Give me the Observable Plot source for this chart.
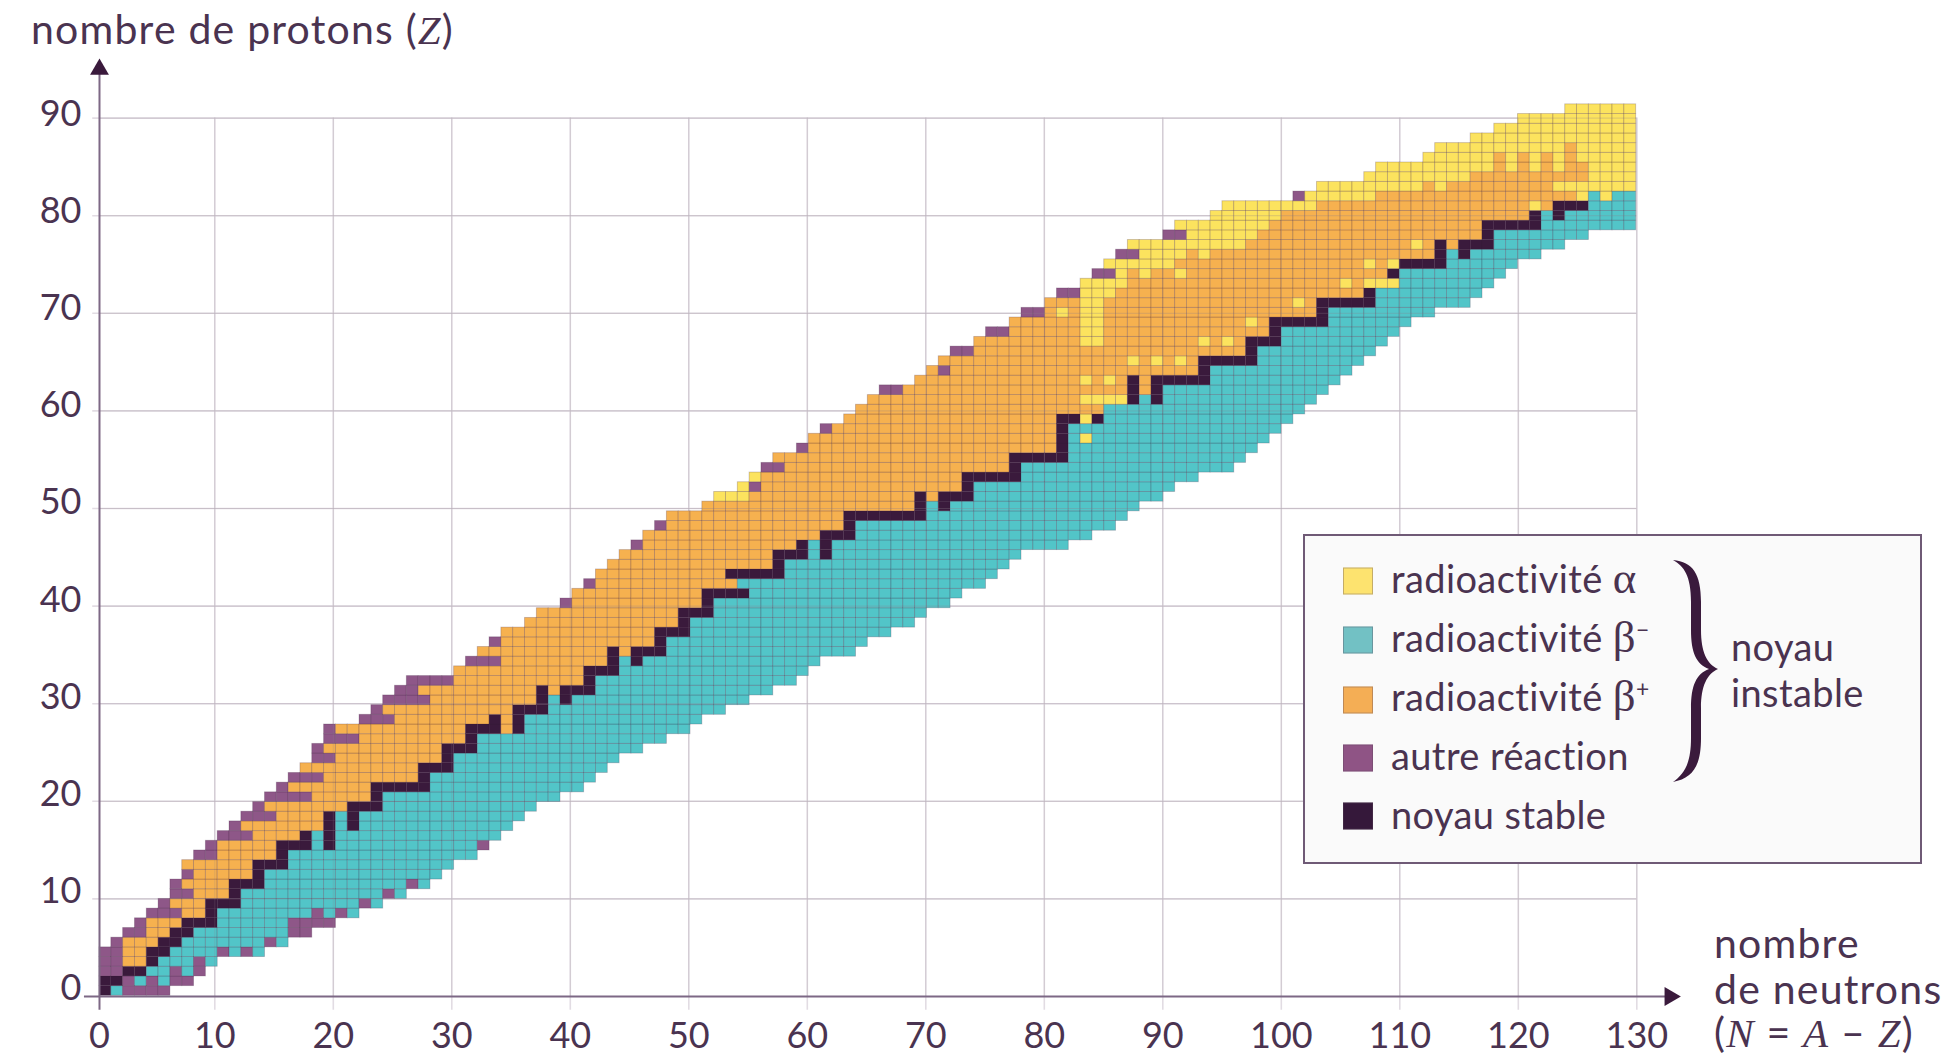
<!DOCTYPE html>
<html lang="fr">
<head>
<meta charset="utf-8">
<script src="https://cdn.jsdelivr.net/npm/d3@7"></script>
<script src="https://cdn.jsdelivr.net/npm/@observablehq/plot@0.6"></script>
<style>
  html, body { margin: 0; padding: 0; background: #fff; overflow: hidden; }
  #page { position: relative; width: 1952px; height: 1056px; font-family: Lato, sans-serif; color: #4a3350; }
  #page svg { display: block; }
  .lab { position: absolute; white-space: nowrap; transform: translateY(-50%); font-size: 41px; letter-spacing: 1.2px; }
  .lab.legend { font-size: 38px; letter-spacing: .4px; }
  .lab i { font-family: "Liberation Serif", serif; }
  .greek { font-family: "Liberation Serif", serif; font-size: 118%; }
  .lab sup { font-size: 60%; line-height: 0; vertical-align: .6em; }
  #box { position: absolute; left: 1303px; top: 534px; width: 619px; height: 330px; box-sizing: border-box; background: #fafafa; border: 2px solid #6f5a76; }
  .sw { position: absolute; width: 30px; height: 27px; box-sizing: border-box; border: 1px solid rgba(90,70,90,.35); transform: translateY(-50%); }
</style>
</head>
<body>
<div id="page"></div>
<script>
// neutron columns: 0 to 129
const zBottom = [0,0,0,0,0,0,1,1,2,3,4,4,4,4,5,5,6,6,7,7,8,8,9,9,10,10,11,11,12,13,14,14,15,16,17,18,19,20,20,21,21,22,23,24,25,25,26,26,27,27,28,29,29,30,30,31,31,32,32,33,34,35,35,35,36,37,37,38,38,39,40,40,41,42,42,43,44,45,46,46,46,46,47,47,48,48,49,50,51,51,52,53,53,54,54,54,55,56,57,58,59,60,61,62,63,64,65,66,67,68,69,70,70,71,71,71,72,73,74,75,76,76,77,77,78,78,79,79,79,79];
const zTop = [4,5,6,7,8,9,11,13,14,15,16,17,18,19,20,21,22,23,25,27,27,27,28,29,30,31,32,32,32,32,33,34,35,36,37,37,38,39,39,40,41,42,43,44,45,46,47,48,49,49,49,50,51,51,52,53,54,55,55,56,57,58,58,59,60,61,62,62,62,63,64,65,66,66,67,68,68,69,70,70,71,72,72,73,74,75,76,77,77,77,78,79,79,79,80,81,81,81,81,81,81,82,82,83,83,83,83,84,85,85,85,85,86,87,87,87,88,88,89,89,90,90,90,90,91,91,91,91,91,91];
const betaMinusTop = [-1,0,1,1,2,3,4,5,6,6,8,8,10,10,12,12,14,14,16,14,18,16,18,18,20,20,20,20,22,22,24,24,26,26,26,26,28,28,30,29,30,30,32,32,34,33,34,34,36,36,38,38,40,40,42,42,42,42,44,44,46,44,46,46,48,48,48,48,48,48,50,49,50,50,52,52,52,52,54,54,54,54,58,58,58,60,60,60,61,60,62,62,62,62,64,64,64,64,66,66,68,68,68,68,70,70,70,70,72,72,74,74,74,74,76,75,76,76,78,78,78,78,80,79,80,80,82,81,82,82];
// [Z, first N, last N]
const stable = [[0,0,0],[1,0,1],[2,2,3],[3,4,4],[4,4,5],[5,5,6],[6,6,7],[7,7,9],[8,9,9],[9,9,11],[10,11,11],[11,11,13],[12,13,13],[13,13,15],[14,15,15],[15,15,17],[15,19,19],[16,17,17],[16,19,19],[17,19,19],[17,21,21],[18,19,19],[18,21,21],[19,21,23],[20,23,23],[21,23,27],[22,27,27],[23,27,29],[24,29,29],[25,29,31],[26,31,31],[27,31,33],[27,35,35],[28,33,33],[28,35,35],[29,35,37],[30,37,37],[30,39,39],[31,37,37],[31,39,41],[32,41,41],[33,41,43],[34,43,43],[34,45,45],[35,43,43],[35,45,47],[36,47,47],[37,47,49],[38,49,49],[39,49,51],[40,51,51],[41,51,54],[43,53,57],[44,57,57],[45,57,59],[45,61,61],[46,59,59],[46,61,61],[47,61,63],[48,63,63],[49,63,69],[50,69,69],[50,71,71],[51,69,69],[51,71,73],[52,73,73],[53,73,77],[54,77,77],[55,77,81],[56,81,81],[57,81,81],[58,81,81],[59,81,82],[59,84,84],[61,87,87],[61,89,89],[62,87,87],[62,89,89],[63,87,87],[63,89,93],[64,93,93],[65,93,97],[66,97,97],[67,97,99],[68,99,99],[69,99,103],[70,103,103],[71,103,107],[72,107,107],[74,109,109],[75,110,113],[76,113,113],[76,115,115],[77,113,113],[77,115,117],[78,117,117],[79,117,121],[80,121,121],[80,123,123],[81,123,125]];
const other = [[0,2,5],[1,2,2],[1,4,4],[1,6,7],[2,0,1],[2,6,6],[2,8,8],[3,0,1],[3,8,8],[4,0,1],[4,10,10],[4,12,12],[5,1,1],[5,14,14],[6,2,3],[6,16,17],[7,3,3],[7,16,19],[8,4,6],[8,18,18],[8,20,20],[9,5,5],[9,22,22],[10,6,7],[10,24,24],[11,6,6],[11,26,26],[12,7,7],[14,8,9],[15,9,9],[15,32,32],[16,10,12],[17,11,11],[18,12,14],[19,13,13],[20,14,17],[21,15,15],[22,16,18],[24,18,19],[25,18,18],[26,19,21],[27,19,19],[28,22,24],[29,23,23],[30,24,27],[31,25,26],[32,26,29],[34,31,33],[36,33,33],[40,39,39],[42,41,41],[46,45,45],[48,47,47],[52,55,55],[54,56,57],[56,59,59],[58,61,61],[62,66,67],[64,71,71],[66,72,73],[68,75,76],[70,78,79],[72,81,82],[74,84,85],[76,86,87],[78,90,91],[82,101,101]];
const alpha = [[51,52,54],[52,54,54],[53,55,55],[57,83,83],[59,83,83],[61,83,86],[63,83,83],[63,85,85],[65,87,87],[65,89,89],[65,91,91],[67,83,84],[67,93,93],[67,95,95],[68,83,84],[69,83,84],[69,97,97],[70,81,81],[70,83,84],[71,83,84],[71,101,101],[72,83,85],[73,83,86],[73,105,105],[73,107,109],[74,86,86],[74,88,88],[74,91,91],[75,85,90],[75,107,107],[75,109,109],[76,88,91],[76,93,93],[77,87,96],[77,111,111],[78,92,97],[79,91,98],[80,94,99],[81,95,102],[81,121,121],[82,102,107],[82,125,125],[82,127,127],[83,103,111],[83,113,113],[83,123,129],[84,107,115],[84,126,129],[85,108,117],[85,119,119],[85,121,121],[85,123,123],[85,126,129],[86,112,117],[86,119,119],[86,121,121],[86,123,123],[86,125,129],[87,113,123],[87,125,129],[88,116,129],[89,118,129],[90,120,129],[91,124,129]];

const categories = ["alpha", "betaMinus", "betaPlus", "other", "stable"];
const colours = ["#fce35e", "#52c5c8", "#f6b14f", "#8e5788", "#3a1a3c"];
const legendColours = ["#fde36f", "#72c1c4", "#f4ae55", "#8f5485", "#35183a"];
const xTicks = [0,10,20,30,40,50,60,70,80,90,100,110,120,130];
const yTicks = [0,10,20,30,40,50,60,70,80,90];

// the printed cell lattice does not quite share the printed axis graduation
const cellOriginX = 0.27, cellStepX = 0.9975, cellOriginY = 0.07, cellStepY = 0.9928;

const grid = new Map();
zBottom.forEach((low, n) => {
  for (let z = low; z <= zTop[n]; z++) grid.set(n + "," + z, z <= betaMinusTop[n] ? "betaMinus" : "betaPlus");
});
const paint = (list, cat) => list.forEach(([z, a, b]) => { for (let n = a; n <= b; n++) grid.set(n + "," + z, cat); });
paint(alpha, "alpha"); paint(other, "other"); paint(stable, "stable");
const cells = [...grid].map(([key, cat]) => { const [n, z] = key.split(",").map(Number); return {n, z, cat}; });

const gridColour = "#e2dce3", axisColour = "#7d6885", ink = "#4a3350", arrowInk = "#3a1a3c";
const tickFont = {fontFamily: "Lato, sans-serif", fontSize: 36, fill: ink};

const chart = Plot.plot({
  width: 1952, height: 1056, margin: 0,
  x: {domain: [-8.084, 156.64], range: [0, 1952], axis: null},
  y: {domain: [-6.148, 102.05], range: [1056, 0], axis: null},
  color: {domain: categories, range: colours},
  marks: [
    Plot.ruleX(xTicks.slice(1), {y1: -1.4, y2: 90, stroke: gridColour, strokeWidth: 1.6}),
    Plot.ruleY(yTicks.slice(1), {x1: -0.3, x2: 130, stroke: gridColour, strokeWidth: 1.6}),
    Plot.rect(cells, {
      x1: d => cellOriginX + d.n * cellStepX,
      x2: d => cellOriginX + (d.n + 1) * cellStepX,
      y1: d => cellOriginY + d.z * cellStepY,
      y2: d => cellOriginY + (d.z + 1) * cellStepY,
      fill: "cat", stroke: "#3a1a3c", strokeOpacity: 0.25, strokeWidth: 0.9
    }),
    Plot.ruleX(xTicks.slice(1), {y1: 0, y2: 90, stroke: "#8a7f8a", strokeOpacity: 0.22, strokeWidth: 1}),
    Plot.ruleY(yTicks.slice(1), {x1: 0.27, x2: 130, stroke: "#8a7f8a", strokeOpacity: 0.3, strokeWidth: 1}),
    Plot.ruleX([cellOriginX], {y1: -1.4, y2: 95, stroke: axisColour, strokeWidth: 2}),
    Plot.ruleY([0], {x1: -1, x2: 132.7, stroke: axisColour, strokeWidth: 2}),
    Plot.dot([{x: cellOriginX, y: 95}], {x: "x", y: "y", symbol: "triangle", r: 7, fill: arrowInk}),
    Plot.dot([{x: 132.8, y: 0}], {x: "x", y: "y", symbol: "triangle", r: 7, fill: arrowInk, rotate: 90}),
    Plot.text(xTicks, {x: d => d === 0 ? cellOriginX : d, y: -4.1, text: d => String(d), ...tickFont}),
    Plot.text(yTicks, {x: -1.25, y: d => 0.85 + d * 0.9944, text: d => String(d), textAnchor: "end", ...tickFont})
  ]
});

const page = document.getElementById("page");
page.appendChild(chart);

const labels = [
  ["nombre de protons (<i>Z</i>)", 31, 29],
  ["nombre", 1714, 942],
  ["de neutrons", 1714, 988],
  ["(<i>N</i> = <i>A</i> – <i>Z</i>)", 1714, 1032]
];
const legendLabels = [
  'radioactivité <span class="greek">α</span>',
  'radioactivité <span class="greek">β</span><sup>−</sup>',
  'radioactivité <span class="greek">β</span><sup>+</sup>',
  'autre réaction',
  'noyau stable'
];
const legendRows = [581, 640, 700, 758, 816];
const legendTextRows = [578, 637, 696, 755, 814];

const box = document.createElement("div");
box.id = "box";
page.appendChild(box);
legendLabels.forEach((html, i) => {
  const sw = document.createElement("div");
  sw.className = "sw";
  sw.style.cssText = `left:1343px;top:${legendRows[i]}px;background:${legendColours[i]}`;
  page.appendChild(sw);
  labels.push([html, 1391, legendTextRows[i], "legend"]);
});
labels.push(["noyau", 1731, 646, "legend"], ["instable", 1731, 692, "legend"]);
labels.forEach(([html, left, top, cls]) => {
  const el = document.createElement("div");
  el.className = cls ? "lab " + cls : "lab";
  el.style.left = left + "px";
  el.style.top = top + "px";
  el.innerHTML = html;
  page.appendChild(el);
});

// the brace of the legend
const brace = d3.create("svg").attr("width", 60).attr("height", 240)
  .style("position", "absolute").style("left", "1669px").style("top", "552px");
brace.append("path")
  .attr("d", "M4,8 C24,10 32,22 32,50 L32,78 C32,100 38,112 49,117 C38,122 32,134 32,156 L32,186 C32,214 24,226 4,230 C15,222 22,212 22,186 L22,156 C22,134 27,122 40,117 C27,112 22,100 22,78 L22,50 C22,24 15,14 4,8 Z")
  .attr("fill", arrowInk);
page.appendChild(brace.node());
</script>
</body>
</html>
